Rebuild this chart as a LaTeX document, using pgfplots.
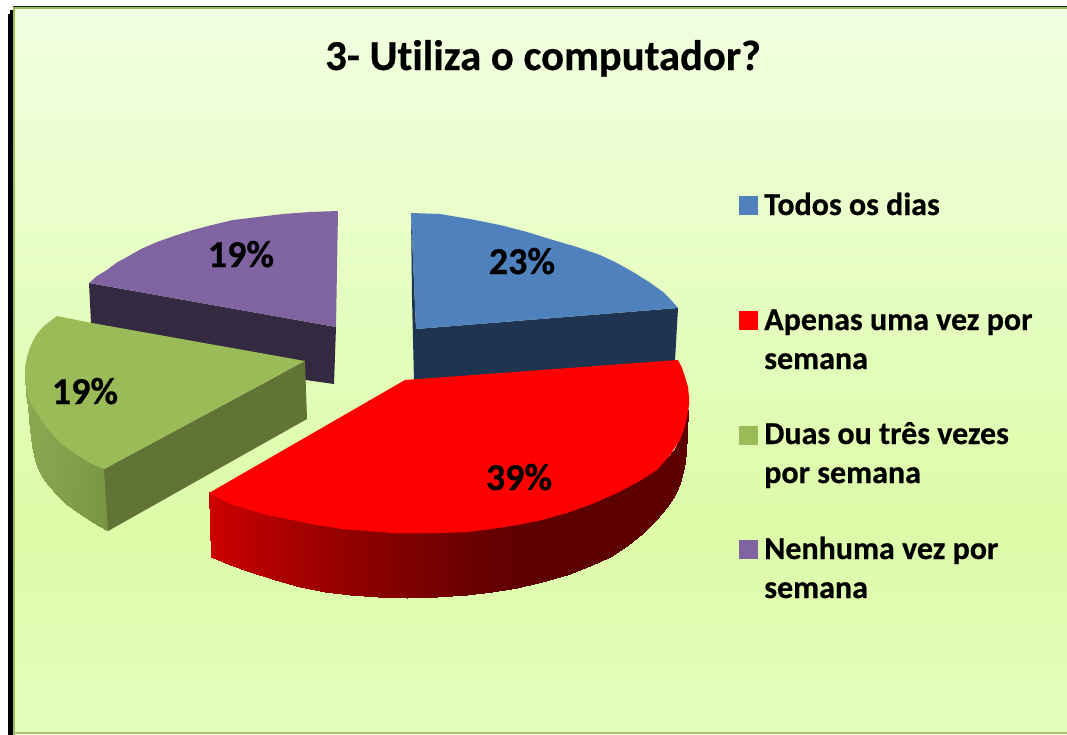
\documentclass[border=0pt]{standalone}
\usepackage{pgfplots}
\pgfplotsset{compat=1.18}
\usepackage{fontspec}
\setmainfont{Carlito}[Ligatures=NoCommon]
\newfontfamily\heavy{Carlito Bold}[Ligatures=NoCommon, FakeBold=0.5]
\definecolor{cblue}{HTML}{4F81BD}
\definecolor{cbluedk}{HTML}{1F3450}
\definecolor{cred}{HTML}{FF0000}
\definecolor{cgreen}{HTML}{9BBB59}
\definecolor{cgreendk}{HTML}{627435}
\definecolor{cpurple}{HTML}{8064A2}
\definecolor{cpurpledk}{HTML}{332940}
\definecolor{bgtop}{HTML}{F2FFE1}
\definecolor{bgmid}{HTML}{DCFCA8}
\definecolor{bgbot}{HTML}{E4FDBC}
\pgfplotsset{
  colormap={redside}{rgb255=(92,0,0) rgb255=(205,0,0)},
  colormap={greenside}{rgb255=(122,150,69) rgb255=(140,170,82)}
}
\begin{document}
\begin{tikzpicture}
\begin{axis}[
  at={(0,0)}, anchor=south west,
  scale only axis, width=800.25pt, height=551.25pt,
  xmin=0, xmax=1067, ymin=0, ymax=735, y dir=reverse,
  hide axis, clip=false, no markers, point meta rel=per plot]
% background and frame
\fill[white] (axis cs:0,0) rectangle (axis cs:1067,735);
\shade[top color=bgtop, bottom color=bgmid] (axis cs:13,8) rectangle (axis cs:1067,525);
\shade[top color=bgmid, bottom color=bgbot] (axis cs:13,525) rectangle (axis cs:1067,732);
\fill[black!85!green] (axis cs:13,6) rectangle (axis cs:1067,7.2);
\fill[cgreen] (axis cs:13,7.2) rectangle (axis cs:1067,8.6);
\fill[black] (axis cs:8,14) rectangle (axis cs:12.5,735);
\fill[black] (axis cs:10,10) rectangle (axis cs:12.5,14);
\fill[cgreen] (axis cs:12.5,8) rectangle (axis cs:14.5,735);
\fill[cgreen!90!white] (axis cs:13,732) rectangle (axis cs:1067,734.2);
% purple slice (19%)
\addplot[fill=cpurpledk, draw=none] coordinates {(89,283)(336,327)(334,384)(306,380)(91,323)} -- cycle;
\addplot[fill=cpurple, draw=none] coordinates {(338,211)(310,212)(283,214)(258,217)(233,220)(212,225)(193,230)(174,236)(157,242)(141,249)(127,257)(116,263)(107,270)(97,276)(89,283)(336,327)} -- cycle;
% green slice (19%)
\addplot[patch, patch type=rectangle, shader=interp, colormap name=greenside, point meta=explicit] coordinates {
(25,375)[1] (30,383)[.95] (28,407)[.95] (26,395)[1]
(30,383)[.95] (32,398)[.92] (30,430)[.92] (28,407)[.95]
(32,398)[.92] (35,408)[.87] (32,446)[.87] (30,430)[.92]
(35,408)[.87] (40,416)[.83] (35,460)[.83] (32,446)[.87]
(40,416)[.83] (44,422)[.78] (38,469)[.78] (35,460)[.83]
(44,422)[.78] (50,428)[.72] (42,477)[.72] (38,469)[.78]
(50,428)[.72] (60,438)[.62] (49,486)[.62] (42,477)[.72]
(60,438)[.62] (68,445)[.52] (57,495)[.52] (49,486)[.62]
(68,445)[.52] (78,451)[.42] (66,504)[.42] (57,495)[.52]
(78,451)[.42] (88,457)[.3] (77,512)[.3] (66,504)[.42]
(88,457)[.3] (96,462)[.15] (92,522)[.15] (77,512)[.3]
(96,462)[.15] (104,469)[0] (108,531)[0] (92,522)[.15]
};
\addplot[fill=cgreendk, draw=none] coordinates {(305,361)(307,419)(108,531)(104,469)} -- cycle;
\addplot[fill=cgreen, draw=none] coordinates {(57,316)(92,323)(305,361)(104,469)(90,463)(77,455)(64,446)(53,435)(44,424)(37,413)(32,405)(28,397)(26,387)(25,377)(25,367)(27,357)(30,347)(35,337)(40,330)(45,325)} -- cycle;
% blue slice (23%)
\addplot[fill=cbluedk, draw=none] coordinates {(411,213)(416,329)(678,308)(675,361)(414,381)(412,298)} -- cycle;
\addplot[fill=cblue, draw=none] coordinates {(411,213)(440,214)(470,219)(500,225)(527,232)(553,240)(577,247)(600,255)(617,263)(633,272)(649,282)(663,292)(671,300)(678,308)(416,329)} -- cycle;
% red slice (39%)
\addplot[patch, patch type=rectangle, shader=interp, colormap name=redside, point meta=explicit] coordinates {
(209,492)[205] (230,501)[195] (230,565)[195] (211,557)[205]
(230,501)[195] (250,508)[185] (250,572)[185] (230,565)[195]
(250,508)[185] (275,515)[175] (275,580)[175] (250,572)[185]
(275,515)[175] (300,520)[165] (300,587)[165] (275,580)[175]
(300,520)[165] (325,524)[155] (325,591.5)[155] (300,587)[165]
(325,524)[155] (350,528)[145] (350,595)[145] (325,591.5)[155]
(350,528)[145] (378,530)[136] (378,597)[136] (350,595)[145]
(378,530)[136] (407,531)[128] (407,598)[128] (378,597)[136]
(407,531)[128] (437,531)[118] (437,597)[118] (407,598)[128]
(437,531)[118] (467,530)[108] (467,595)[108] (437,597)[118]
(467,530)[108] (492,527)[102] (492,592)[102] (467,595)[108]
(492,527)[102] (517,523)[96] (517,588)[96] (492,592)[102]
(517,523)[96] (542,518)[93] (542,582)[93] (517,588)[96]
(542,518)[93] (567,511)[92] (567,575)[92] (542,582)[93]
(567,511)[92] (590,503)[92] (590,566)[92] (567,575)[92]
(590,503)[92] (610,494)[92] (610,557)[92] (590,566)[92]
(610,494)[92] (628,486)[92] (628,545)[92] (610,557)[92]
(628,486)[92] (643,477)[92] (643,533)[92] (628,545)[92]
(643,477)[92] (656,469)[92] (656,520)[92] (643,533)[92]
(656,469)[92] (667,458)[92] (667,507)[92] (656,520)[92]
(667,458)[92] (675,449)[92] (675,495)[92] (667,507)[92]
(675,449)[92] (680,438)[92] (680,483)[92] (675,495)[92]
(680,438)[92] (684,428)[92] (684,468)[92] (680,483)[92]
(684,428)[92] (686,420)[92] (686,453)[92] (684,468)[92]
(686,420)[92] (688,410)[92] (687,433)[92] (686,453)[92]
};
\addplot[fill=cred, draw=none] coordinates {(405,380)(678,360)(682,368)(685,377)(688,387)(689,397)(689,405)(688,412)(685,426)(680,440)(670,455)(657,470)(638,482)(617,493)(592,504)(567,513)(542,520)(517,525)(492,529)(467,532)(442,533)(417,533)(392,533)(367,531)(342,529)(317,525)(292,520)(267,515)(250,510)(233,505)(220,499)(209,493)} -- cycle;
% legend swatches
\addplot[fill=cblue, draw=none] coordinates {(739,196)(758,196)(758,215)(739,215)} -- cycle;
\addplot[fill=cred, draw=none] coordinates {(739,311)(758,311)(758,330)(739,330)} -- cycle;
\addplot[fill=cgreen, draw=none] coordinates {(739,426)(758,426)(758,445)(739,445)} -- cycle;
\addplot[fill=cpurple, draw=none] coordinates {(739,540)(758,540)(758,559)(739,559)} -- cycle;
% texts
\node[anchor=base, font=\heavy\fontsize{32}{38}\selectfont, inner sep=0] at (axis cs:543,70) {3- Utiliza o computador?};
\begin{scope}[every node/.style={anchor=base west, inner sep=0, font=\heavy\fontsize{24}{28}\selectfont}]
\node at (axis cs:764,215) {Todos os dias};
\node at (axis cs:764,330) {Apenas uma vez por};
\node at (axis cs:764,369) {semana};
\node at (axis cs:764,444) {Duas ou três vezes};
\node at (axis cs:764,483) {por semana};
\node at (axis cs:764,559) {Nenhuma vez por};
\node at (axis cs:764,598) {semana};
\end{scope}
\begin{scope}[every node/.style={anchor=base, inner sep=0, font=\heavy\fontsize{28.5}{34}\selectfont}]
\node at (axis cs:522,274) {23\%};
\node at (axis cs:519,490) {39\%};
\node at (axis cs:241,267) {19\%};
\node at (axis cs:85,404) {19\%};
\end{scope}
\end{axis}
\end{tikzpicture}
\end{document}
